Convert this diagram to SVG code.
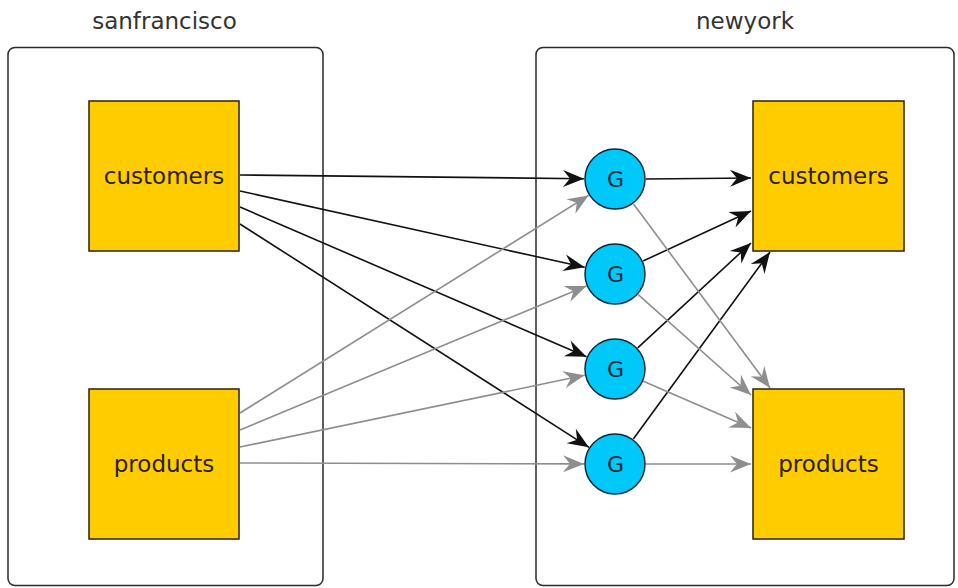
<svg xmlns="http://www.w3.org/2000/svg" width="958" height="588" viewBox="0 0 958 588">
<style>
.cont{fill:#fff;stroke:#2a2a2a;stroke-width:1.5}
.tbl{fill:#ffcc00;stroke:#2b2200;stroke-width:1.5}
.g{fill:#00c8f8;stroke:#0a2a3a;stroke-width:1.5}
text{font-family:"DejaVu Sans","Liberation Sans",sans-serif;font-size:23px;text-anchor:middle}
.title{fill:#333}
.lbl{fill:#2a2000}
.gl{fill:#0a2a3a;font-size:22px}
.blk{stroke:#111;stroke-width:1.6;fill:none;marker-end:url(#ab)}
.gry{stroke:#8e8e8e;stroke-width:1.6;fill:none;marker-end:url(#ag)}
</style>
<defs>
<marker id="ab" viewBox="-22 -10 23 20" refX="0" refY="0" markerWidth="23" markerHeight="20" markerUnits="userSpaceOnUse" orient="auto">
<path d="M0,0 L-21,-8.5 L-14,0 L-21,8.5 Z" fill="#111"/>
</marker>
<marker id="ag" viewBox="-22 -10 23 20" refX="0" refY="0" markerWidth="23" markerHeight="20" markerUnits="userSpaceOnUse" orient="auto">
<path d="M0,0 L-21,-8.5 L-14,0 L-21,8.5 Z" fill="#8e8e8e"/>
</marker>
</defs>
<g id="sanfrancisco">
<rect class="cont" x="8" y="47.5" width="315" height="538" rx="7"/>
<text class="title" x="164.5" y="29">sanfrancisco</text>
</g>
<g id="newyork">
<rect class="cont" x="536" y="47.5" width="418" height="538" rx="7"/>
<text class="title" x="745" y="29">newyork</text>
</g>
<g id="connectors">
<line class="blk" x1="240" y1="175" x2="584" y2="178.7"/>
<line class="blk" x1="240" y1="191" x2="584.7" y2="267.3"/>
<line class="blk" x1="240" y1="207" x2="586.5" y2="356.7"/>
<line class="blk" x1="240" y1="224" x2="588.9" y2="447.3"/>
<line class="gry" x1="240" y1="413" x2="588.7" y2="195.4"/>
<line class="gry" x1="240" y1="430" x2="586.4" y2="285.9"/>
<line class="gry" x1="240" y1="447" x2="584.6" y2="375.3"/>
<line class="gry" x1="240" y1="463" x2="584" y2="463.9"/>
<line class="blk" x1="646" y1="179" x2="751" y2="178"/>
<line class="blk" x1="643.1" y1="261" x2="751" y2="211"/>
<line class="blk" x1="637.7" y1="347.9" x2="751" y2="243"/>
<line class="blk" x1="633.3" y1="439" x2="770" y2="252"/>
<line class="gry" x1="633.5" y1="203.9" x2="770" y2="388"/>
<line class="gry" x1="638.2" y1="294.6" x2="751" y2="395"/>
<line class="gry" x1="643.4" y1="381.3" x2="751" y2="428"/>
<line class="gry" x1="646" y1="464" x2="751" y2="464"/>
</g>
<g id="sf-customers">
<rect class="tbl" x="89" y="101" width="150" height="150"/>
<text class="lbl" x="164" y="184">customers</text>
</g>
<g id="sf-products">
<rect class="tbl" x="89" y="389" width="150" height="150"/>
<text class="lbl" x="164" y="472">products</text>
</g>
<g id="g1">
<circle class="g" cx="615" cy="179" r="30"/>
<text class="gl" x="615.5" y="187">G</text>
</g>
<g id="g2">
<circle class="g" cx="615" cy="274" r="30"/>
<text class="gl" x="615.5" y="282">G</text>
</g>
<g id="g3">
<circle class="g" cx="615" cy="369" r="30"/>
<text class="gl" x="615.5" y="377">G</text>
</g>
<g id="g4">
<circle class="g" cx="615" cy="464" r="30"/>
<text class="gl" x="615.5" y="472">G</text>
</g>
<g id="ny-customers">
<rect class="tbl" x="753" y="101" width="151" height="150"/>
<text class="lbl" x="828.5" y="184">customers</text>
</g>
<g id="ny-products">
<rect class="tbl" x="753" y="389" width="151" height="150"/>
<text class="lbl" x="828.5" y="472">products</text>
</g>
</svg>
